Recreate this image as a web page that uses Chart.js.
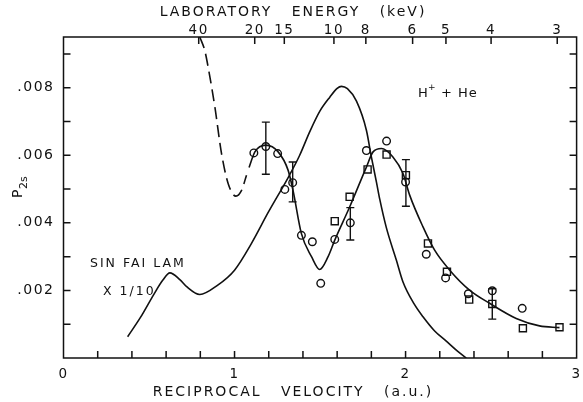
<!DOCTYPE html>
<html>
<head>
<meta charset="utf-8">
<script src="https://cdn.jsdelivr.net/npm/chart.js@4.4.0/dist/chart.umd.min.js"></script>
<style>
  html, body { margin: 0; padding: 0; background: #fff; }
</style>
</head>
<body>
<canvas id="chart" width="583" height="402"></canvas>
<script>
// Sin Fai Lam theory (x 1/10)
const lamX = [0.375, 0.45, 0.53, 0.58, 0.622, 0.68, 0.72, 0.797, 0.9, 1.0, 1.1, 1.196, 1.32, 1.381, 1.44, 1.498, 1.557, 1.6, 1.625, 1.66, 1.713, 1.771, 1.8, 1.83, 1.849, 1.888, 1.946, 1.985, 2.05, 2.102, 2.17, 2.238, 2.3, 2.355];
const lamY = [0.00063, 0.0012, 0.0019, 0.0023, 0.00252, 0.00232, 0.00211, 0.00188, 0.00215, 0.0026, 0.0034, 0.0043, 0.0054, 0.0060, 0.0067, 0.0073, 0.00772, 0.00798, 0.00804, 0.00797, 0.0076, 0.00674, 0.00595, 0.0052, 0.0047, 0.00385, 0.0029, 0.00225, 0.0016, 0.00122, 0.0008, 0.0005, 0.00022, 0.0];

// curve through the measurements
const fitX = [1.085, 1.119, 1.183, 1.255, 1.313, 1.342, 1.391, 1.45, 1.498, 1.547, 1.586, 1.673, 1.771, 1.81, 1.859, 1.926, 1.985, 2.024, 2.102, 2.17, 2.258, 2.374, 2.491, 2.647, 2.783, 2.9];
const fitY = [0.00564, 0.0061, 0.0063, 0.0061, 0.00556, 0.00496, 0.00368, 0.0030, 0.00262, 0.0030, 0.00349, 0.00447, 0.00565, 0.0061, 0.0062, 0.00595, 0.00546, 0.00482, 0.00388, 0.00319, 0.0026, 0.00201, 0.00162, 0.00117, 0.00095, 0.0009];

// dashed extension at high energy
const dashX = [0.797, 0.826, 0.846, 0.885, 0.924, 0.963, 1.008, 1.041, 1.07];
const dashY = [0.0095, 0.0091, 0.0086, 0.00743, 0.00605, 0.00516, 0.00479, 0.00496, 0.00541];

const circleX = [1.113, 1.183, 1.252, 1.294, 1.340, 1.391, 1.455, 1.504, 1.586, 1.677, 1.771, 1.889, 2.0, 2.121, 2.234, 2.367, 2.507, 2.682];
const circleY = [0.00607, 0.00626, 0.00605, 0.00499, 0.00519, 0.00363, 0.00344, 0.00221, 0.00351, 0.00400, 0.00614, 0.00642, 0.00521, 0.00307, 0.00237, 0.0019, 0.00199, 0.00147];

const squareX = [1.586, 1.673, 1.778, 1.889, 2.002, 2.131, 2.242, 2.372, 2.507, 2.686, 2.9];
const squareY = [0.00405, 0.00477, 0.00558, 0.00602, 0.00541, 0.00339, 0.00255, 0.00173, 0.0016, 0.00088, 0.00091];

const errX = [1.183, 1.340, 1.677, 2.002, 2.507];
const errLow = [0.00544, 0.00462, 0.00349, 0.00449, 0.00115];
const errHigh = [0.00698, 0.0058, 0.00445, 0.00587, 0.00205];

const energyTicks = [40, 20, 15, 10, 8, 6, 5, 4, 3];
const xTickLabels = ['0', '1', '2', '3'];
const yTickLabels = ['.002', '.004', '.006', '.008'];

const INK = '#111';
const FONT = 'DejaVu Sans';

function pts(xs, ys) {
  return xs.map((x, i) => ({ x: x, y: ys[i] }));
}

// tick values between min and max at the scale's own step (labelled or not)
function stepValues(scale) {
  const step = scale.options.ticks.stepSize;
  const out = [];
  const n = Math.floor((scale.max - scale.min) / step + 1e-6);
  for (let i = 1; i <= n; i++) {
    const v = scale.min + i * step;
    if (v < scale.max - 1e-9) out.push(v);
  }
  return out;
}

const paperPlugin = {
  id: 'paper',
  beforeDraw(chart) {
    chart.ctx.letterSpacing = '1.5px';
  },
  afterDatasetsDraw(chart) {
    const ctx = chart.ctx;
    const x = chart.scales.x, y = chart.scales.y;
    ctx.save();
    ctx.strokeStyle = INK;
    ctx.lineWidth = 1.4;
    errX.forEach((v, i) => {
      const px = x.getPixelForValue(v);
      const lo = y.getPixelForValue(errLow[i]);
      const hi = y.getPixelForValue(errHigh[i]);
      ctx.beginPath();
      ctx.moveTo(px, lo); ctx.lineTo(px, hi);
      ctx.moveTo(px - 4, lo); ctx.lineTo(px + 4, lo);
      ctx.moveTo(px - 4, hi); ctx.lineTo(px + 4, hi);
      ctx.stroke();
    });
    ctx.restore();
  },
  afterDraw(chart) {
    const ctx = chart.ctx;
    const a = chart.chartArea;
    const { x, y, x2 } = chart.scales;
    const len = 7;
    ctx.save();
    ctx.strokeStyle = INK;
    ctx.lineWidth = 1.5;
    ctx.strokeRect(a.left, a.top, a.right - a.left, a.bottom - a.top);

    ctx.beginPath();
    stepValues(x).forEach(v => {
      const px = x.getPixelForValue(v);
      ctx.moveTo(px, a.bottom); ctx.lineTo(px, a.bottom - len);
    });
    x2.ticks.forEach(t => {
      const px = x2.getPixelForValue(t.value);
      ctx.moveTo(px, a.top); ctx.lineTo(px, a.top + len);
    });
    stepValues(y).forEach(v => {
      const py = y.getPixelForValue(v);
      ctx.moveTo(a.left, py); ctx.lineTo(a.left + len, py);
      ctx.moveTo(a.right, py); ctx.lineTo(a.right - len, py);
    });
    ctx.stroke();

    // texts
    ctx.fillStyle = INK;
    ctx.textBaseline = 'middle';
    ctx.textAlign = 'center';
    ctx.letterSpacing = '2px';
    ctx.font = '14px "' + FONT + '"';
    ctx.fillText('LABORATORY   ENERGY   (keV)', 293, 12);
    ctx.fillText('RECIPROCAL   VELOCITY   (a.u.)', 293, 392);

    ctx.textAlign = 'left';
    ctx.font = '12.5px "' + FONT + '"';
    ctx.fillText('SIN FAI LAM', 90, 264);
    ctx.fillText('X 1/10', 103, 292);

    ctx.letterSpacing = '1px';
    ctx.font = '13px "' + FONT + '"';
    ctx.fillText('H', 418, 94);
    ctx.font = '9px "' + FONT + '"';
    ctx.fillText('+', 428, 88);
    ctx.font = '13px "' + FONT + '"';
    ctx.fillText('+ He', 441, 94);

    // y axis title P2s
    ctx.translate(18, 193);
    ctx.rotate(-Math.PI / 2);
    ctx.letterSpacing = '0px';
    ctx.font = '14px "' + FONT + '"';
    ctx.fillText('P', -5, 0);
    ctx.font = '11px "' + FONT + '"';
    ctx.fillText('2s', 4, 6);
    ctx.restore();
  }
};

const lineStyle = {
  showLine: true,
  pointRadius: 0,
  borderColor: INK,
  borderWidth: 1.6,
  cubicInterpolationMode: 'monotone',
  fill: false
};

function flatPadding(s) {
  s.paddingLeft = 0;
  s.paddingRight = 0;
}

new Chart(document.getElementById('chart'), {
  type: 'scatter',
  data: {
    datasets: [
      Object.assign({ label: 'Sin Fai Lam x 1/10', data: pts(lamX, lamY) }, lineStyle),
      Object.assign({ label: 'fit', data: pts(fitX, fitY) }, lineStyle),
      Object.assign({ label: 'fit (dashed)', data: pts(dashX, dashY), borderDash: [12, 6] }, lineStyle),
      {
        label: 'circles',
        data: pts(circleX, circleY),
        pointStyle: 'circle',
        pointRadius: 3.8,
        pointBorderWidth: 1.4,
        pointBorderColor: INK,
        pointBackgroundColor: 'rgba(0,0,0,0)'
      },
      {
        label: 'squares',
        data: pts(squareX, squareY),
        pointStyle: 'rect',
        pointRadius: 5,
        pointBorderWidth: 1.4,
        pointBorderColor: INK,
        pointBackgroundColor: 'rgba(0,0,0,0)'
      }
    ]
  },
  options: {
    responsive: false,
    animation: false,
    devicePixelRatio: 1,
    layout: { padding: { left: 0, right: 6, top: 0, bottom: 0 } },
    plugins: {
      legend: { display: false },
      tooltip: { enabled: false }
    },
    scales: {
      x: {
        type: 'linear',
        position: 'bottom',
        min: 0,
        max: 3,
        afterFit(s) { s.height = 44; flatPadding(s); },
        grid: { display: false, drawTicks: false },
        border: { display: false },
        ticks: {
          stepSize: 0.2,
          autoSkip: false,
          maxRotation: 0,
          padding: 8,
          color: INK,
          font: { family: FONT, size: 13.5 },
          callback(v) {
            const r = Math.round(v);
            if (Math.abs(v - r) < 1e-6 && xTickLabels.includes(String(r))) return String(r);
            return null;
          }
        }
      },
      x2: {
        type: 'linear',
        position: 'top',
        min: 0,
        max: 3,
        afterFit(s) { s.height = 37; flatPadding(s); },
        afterBuildTicks(s) {
          s.ticks = energyTicks.map(e => ({ value: 5 / Math.sqrt(e) }));
        },
        grid: { display: false, drawTicks: false },
        border: { display: false },
        ticks: {
          autoSkip: false,
          maxRotation: 0,
          padding: -2,
          color: INK,
          font: { family: FONT, size: 13.5 },
          callback(v, i) { return String(energyTicks[i]); }
        }
      },
      y: {
        type: 'linear',
        min: 0,
        max: 0.0095,
        afterFit(s) { s.width = 63.5; s.paddingTop = 0; s.paddingBottom = 0; },
        grid: { display: false, drawTicks: false },
        border: { display: false },
        ticks: {
          stepSize: 0.001,
          autoSkip: false,
          padding: 9,
          color: INK,
          font: { family: FONT, size: 14 },
          callback(v) {
            const lbl = '.' + String(Math.round(v * 1000)).padStart(3, '0');
            if (Math.abs(v * 1000 - Math.round(v * 1000)) < 1e-6 && yTickLabels.includes(lbl)) return lbl;
            return null;
          }
        }
      }
    }
  },
  plugins: [paperPlugin]
});
</script>
</body>
</html>
